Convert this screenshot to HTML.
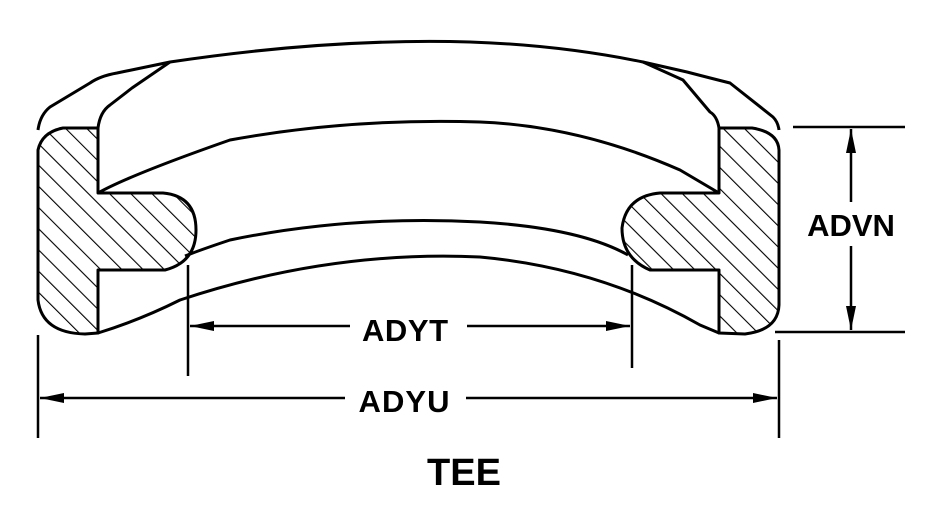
<!DOCTYPE html>
<html><head><style>body{margin:0;background:#fff}svg{display:block}</style></head>
<body>
<svg width="940" height="513" viewBox="0 0 940 513" xmlns="http://www.w3.org/2000/svg">
<defs>
<pattern id="h" width="15" height="15" patternUnits="userSpaceOnUse" patternTransform="rotate(-45)">
<line x1="0" y1="0" x2="0" y2="15" stroke="#000" stroke-width="2.2"/>
</pattern>
<marker id="a" viewBox="0 0 24 10" refX="24" refY="5" markerWidth="24" markerHeight="10" markerUnits="userSpaceOnUse" orient="auto-start-reverse"><path d="M0,0L24,5L0,10z" fill="#000"/></marker>
</defs>
<g fill="none" stroke="#000" stroke-width="3" stroke-linejoin="round">
<path d="M38,130 Q40,115 50,107 L90,83 Q100,76 117,73 L170,62 Q330,38 470,42 Q560,45 643,62 L687,72 Q710,78 730,83 L773,117 Q778,122 779,130"/>
<path d="M98,128 Q100,112 110,105 L132,88 L170,62"/>
<path d="M719,128 Q717,116 710,112 L683,80 L643,62"/>
<path d="M98,193 Q130,175 230,140 Q350,118 480,122 Q580,126 680,170 L719,193"/>
<path d="M185,256 Q200,250 230,240 Q350,215 480,222 Q580,228 628,255"/>
<path d="M98,333 Q140,320 180,300 Q330,250 480,257 Q600,268 700,325 L719,333"/>
<path fill="url(#h)" d="M63,128 L98,128 L98,193 L163,193 Q196,196 196,230 Q196,262 165,270 L98,270 L98,333 L85,334 Q42,333 38,300 L38,150 Q42,132 63,128 Z"/>
<path fill="url(#h)" d="M719,128 L752,128 Q778,132 779,150 L779,305 Q778,330 745,334 L719,333 L719,270 L650,270 Q622,258 622,228 Q626,196 660,193 L719,193 Z"/>
<g stroke-width="2.5">
<line x1="188" y1="265" x2="188" y2="376"/>
<line x1="632" y1="265" x2="632" y2="368"/>
<line x1="38" y1="335" x2="38" y2="438"/>
<line x1="779" y1="340" x2="779" y2="438"/>
<line x1="793" y1="127" x2="905" y2="127"/>
<line x1="775" y1="332" x2="905" y2="332"/>
<line x1="190" y1="326" x2="350" y2="326" marker-start="url(#a)"/>
<line x1="467" y1="326" x2="630" y2="326" marker-end="url(#a)"/>
<line x1="40" y1="398" x2="345" y2="398" marker-start="url(#a)"/>
<line x1="466" y1="398" x2="777" y2="398" marker-end="url(#a)"/>
<line x1="851" y1="129" x2="851" y2="202" marker-start="url(#a)"/>
<line x1="851" y1="246" x2="851" y2="330" marker-end="url(#a)"/>
</g>
</g>
<g font-family="Liberation Sans, sans-serif" font-weight="bold" fill="#000">
<text x="405" y="341" font-size="31" text-anchor="middle" textLength="86">ADYT</text>
<text x="404" y="412" font-size="31" text-anchor="middle" textLength="91">ADYU</text>
<text x="851" y="236" font-size="31" text-anchor="middle">ADVN</text>
<text x="464" y="485" font-size="38" text-anchor="middle">TEE</text>
</g>
</svg>
</body></html>
